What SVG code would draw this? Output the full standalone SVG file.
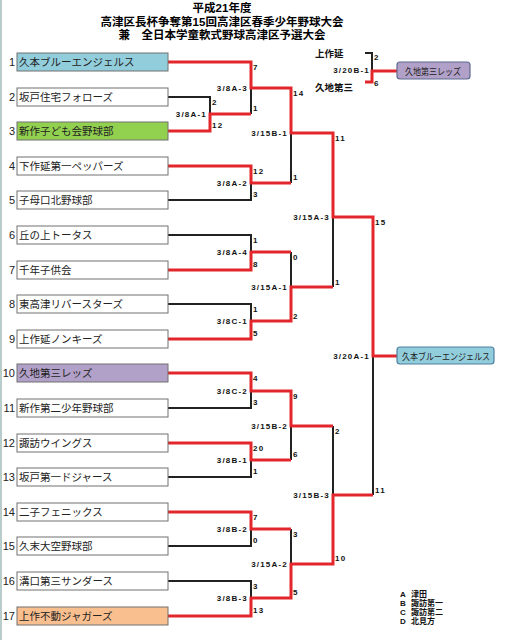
<svg xmlns="http://www.w3.org/2000/svg" width="506" height="640" viewBox="0 0 506 640">
<style>
.bg{fill:#ffffff}
.title{font-family:"Liberation Sans","Noto Sans CJK JP",sans-serif;font-size:11.5px;font-weight:bold;fill:#000;text-anchor:middle}
.box{stroke:#707070;stroke-width:1;fill:#ffffff}
.tn{font-family:"Liberation Sans","Noto Sans CJK JP",sans-serif;font-size:10.5px;fill:#222}
.num{font-family:"Liberation Sans","Noto Sans CJK JP",sans-serif;font-size:11px;fill:#222;text-anchor:end}
.lbl{font-family:"Liberation Sans",sans-serif;font-size:8px;font-weight:bold;fill:#111;letter-spacing:1.2px;text-anchor:end}
.sc{font-family:"Liberation Sans",sans-serif;font-size:8px;font-weight:bold;fill:#111;letter-spacing:1.2px}
.small{font-family:"Liberation Sans","Noto Sans CJK JP",sans-serif;font-size:9.5px;font-weight:bold;fill:#111}
.leg{font-family:"Liberation Sans","Noto Sans CJK JP",sans-serif;font-size:8px;font-weight:bold;fill:#111}
.win{font-family:"Liberation Sans","Noto Sans CJK JP",sans-serif;font-size:9.5px;fill:#222}
.blk{fill:none;stroke:#222;stroke-width:2}
.red{fill:none;stroke:#e3262b;stroke-width:3}
</style>
<rect class="bg" x="0" y="0" width="506" height="640"/>
<line x1="1" y1="0" x2="1" y2="640" stroke="#b8cccc" stroke-width="2"/>
<g id="title">
<text class="title" x="222" y="12">平成21年度</text>
<text class="title" x="222" y="26">高津区長杯争奪第15回高津区春季少年野球大会</text>
<text class="title" x="222" y="39">兼　全日本学童軟式野球高津区予選大会</text>
</g>
<g id="connectors">
<path class="blk" d="M168,97 H210 V114"/>
<path class="blk" d="M251,88 V114"/>
<path class="blk" d="M168,200 H251 V183"/>
<path class="blk" d="M291,133 V183"/>
<path class="blk" d="M168,235 H251 V252"/>
<path class="blk" d="M168,304 H251 V321"/>
<path class="blk" d="M291,252 V287"/>
<path class="blk" d="M333,217 V287"/>
<path class="blk" d="M168,408 H251 V391"/>
<path class="blk" d="M168,477 H251 V460"/>
<path class="blk" d="M291,426 V460"/>
<path class="blk" d="M168,546 H251 V529"/>
<path class="blk" d="M168,581 H251 V598"/>
<path class="blk" d="M291,529 V564"/>
<path class="blk" d="M333,426 V495"/>
<path class="blk" d="M373,356 V495"/>
<path class="blk" d="M365,53 H372 V71"/>
<path class="red" d="M168,62 H251 V88 H291 V133 H333 V217 H373 V356 H397"/>
<path class="red" d="M168,131 H210 V114 H251"/>
<path class="red" d="M168,166 H251 V183 H291"/>
<path class="red" d="M168,270 H251 V252 H291"/>
<path class="red" d="M168,339 H251 V321 H291 V287 H333"/>
<path class="red" d="M168,373 H251 V391 H291 V426 H333"/>
<path class="red" d="M168,443 H251 V460 H291"/>
<path class="red" d="M168,512 H251 V529 H291"/>
<path class="red" d="M168,616 H251 V598 H291 V564 H333 V495 H373"/>
<path class="red" d="M365,82 H372 V71 H397"/>
</g>
<g id="match-labels">
<text class="lbl" x="207" y="117">3/8A-1</text>
<text class="lbl" x="248" y="91">3/8A-3</text>
<text class="lbl" x="248" y="186">3/8A-2</text>
<text class="lbl" x="248" y="255">3/8A-4</text>
<text class="lbl" x="248" y="324">3/8C-1</text>
<text class="lbl" x="248" y="394">3/8C-2</text>
<text class="lbl" x="248" y="463">3/8B-1</text>
<text class="lbl" x="248" y="532">3/8B-2</text>
<text class="lbl" x="248" y="601">3/8B-3</text>
<text class="lbl" x="288" y="136">3/15B-1</text>
<text class="lbl" x="288" y="290">3/15A-1</text>
<text class="lbl" x="288" y="429">3/15B-2</text>
<text class="lbl" x="288" y="567">3/15A-2</text>
<text class="lbl" x="330" y="220">3/15A-3</text>
<text class="lbl" x="330" y="498">3/15B-3</text>
<text class="lbl" x="370" y="359">3/20A-1</text>
<text class="lbl" x="370" y="73">3/20B-1</text>
</g>
<g id="scores">
<text class="sc" x="212" y="105">2</text><text class="sc" x="212" y="128">12</text>
<text class="sc" x="253" y="70">7</text><text class="sc" x="253" y="111">1</text>
<text class="sc" x="253" y="174">12</text><text class="sc" x="253" y="197">3</text>
<text class="sc" x="253" y="243">1</text><text class="sc" x="253" y="267">8</text>
<text class="sc" x="253" y="312">1</text><text class="sc" x="253" y="336">5</text>
<text class="sc" x="253" y="381">4</text><text class="sc" x="253" y="405">3</text>
<text class="sc" x="253" y="451">20</text><text class="sc" x="253" y="474">1</text>
<text class="sc" x="253" y="520">7</text><text class="sc" x="253" y="543">0</text>
<text class="sc" x="253" y="589">3</text><text class="sc" x="253" y="613">13</text>
<text class="sc" x="293" y="96">14</text><text class="sc" x="293" y="180">1</text>
<text class="sc" x="293" y="260">0</text><text class="sc" x="293" y="319">2</text>
<text class="sc" x="293" y="399">9</text><text class="sc" x="293" y="457">6</text>
<text class="sc" x="293" y="537">3</text><text class="sc" x="293" y="595">5</text>
<text class="sc" x="335" y="141">11</text><text class="sc" x="335" y="285">1</text>
<text class="sc" x="335" y="434">2</text><text class="sc" x="335" y="561">10</text>
<text class="sc" x="375" y="225">15</text><text class="sc" x="375" y="493">11</text>
<text class="sc" x="374" y="60">2</text><text class="sc" x="374" y="86">6</text>
</g>
<g id="team1"><text class="num" x="15" y="66">1</text><rect class="box" x="17" y="53" width="151" height="18" style="fill:#92cddc"/><text class="tn" x="19" y="66">久本ブルーエンジェルス</text></g>
<g id="team2"><text class="num" x="15" y="101">2</text><rect class="box" x="17" y="88" width="151" height="18"/><text class="tn" x="19" y="101">坂戸住宅フォローズ</text></g>
<g id="team3"><text class="num" x="15" y="135">3</text><rect class="box" x="17" y="122" width="151" height="18" style="fill:#92d050"/><text class="tn" x="19" y="135">新作子ども会野球部</text></g>
<g id="team4"><text class="num" x="15" y="170">4</text><rect class="box" x="17" y="157" width="151" height="18"/><text class="tn" x="19" y="170">下作延第一ペッパーズ</text></g>
<g id="team5"><text class="num" x="15" y="204">5</text><rect class="box" x="17" y="191" width="151" height="18"/><text class="tn" x="19" y="204">子母口北野球部</text></g>
<g id="team6"><text class="num" x="15" y="239">6</text><rect class="box" x="17" y="226" width="151" height="18"/><text class="tn" x="19" y="239">丘の上トータス</text></g>
<g id="team7"><text class="num" x="15" y="274">7</text><rect class="box" x="17" y="261" width="151" height="18"/><text class="tn" x="19" y="274">千年子供会</text></g>
<g id="team8"><text class="num" x="15" y="308">8</text><rect class="box" x="17" y="295" width="151" height="18"/><text class="tn" x="19" y="308">東高津リバースターズ</text></g>
<g id="team9"><text class="num" x="15" y="343">9</text><rect class="box" x="17" y="330" width="151" height="18"/><text class="tn" x="19" y="343">上作延ノンキーズ</text></g>
<g id="team10"><text class="num" x="15" y="377">10</text><rect class="box" x="17" y="364" width="151" height="18" style="fill:#b1a0c7"/><text class="tn" x="19" y="377">久地第三レッズ</text></g>
<g id="team11"><text class="num" x="15" y="412">11</text><rect class="box" x="17" y="399" width="151" height="18"/><text class="tn" x="19" y="412">新作第二少年野球部</text></g>
<g id="team12"><text class="num" x="15" y="447">12</text><rect class="box" x="17" y="434" width="151" height="18"/><text class="tn" x="19" y="447">諏訪ウイングス</text></g>
<g id="team13"><text class="num" x="15" y="481">13</text><rect class="box" x="17" y="468" width="151" height="18"/><text class="tn" x="19" y="481">坂戸第一ドジャース</text></g>
<g id="team14"><text class="num" x="15" y="516">14</text><rect class="box" x="17" y="503" width="151" height="18"/><text class="tn" x="19" y="516">二子フェニックス</text></g>
<g id="team15"><text class="num" x="15" y="550">15</text><rect class="box" x="17" y="537" width="151" height="18"/><text class="tn" x="19" y="550">久末大空野球部</text></g>
<g id="team16"><text class="num" x="15" y="585">16</text><rect class="box" x="17" y="572" width="151" height="18"/><text class="tn" x="19" y="585">溝口第三サンダース</text></g>
<g id="team17"><text class="num" x="15" y="620">17</text><rect class="box" x="17" y="607" width="151" height="18" style="fill:#fabf8f"/><text class="tn" x="19" y="620">上作不動ジャガーズ</text></g>
<g id="b-team-top"><text class="small" x="315" y="57">上作延</text></g>
<g id="b-team-bottom"><text class="small" x="315" y="91">久地第三</text></g>
<g id="winner-b"><rect x="397" y="62" width="73" height="17" rx="3" fill="#b1a0c7" stroke="#5f6a8f" stroke-width="1.2"/><text class="win" x="405" y="74.5" textLength="56" lengthAdjust="spacingAndGlyphs">久地第三レッズ</text></g>
<g id="winner-a"><rect x="397" y="347" width="97" height="17" rx="3" fill="#92cddc" stroke="#4f7fa0" stroke-width="1.2"/><text class="win" x="402" y="359.5" textLength="88" lengthAdjust="spacingAndGlyphs">久本ブルーエンジェルス</text></g>
<g id="legend">
<text class="leg" x="400" y="597">A</text><text class="leg" x="411" y="597">津田</text>
<text class="leg" x="400" y="606">B</text><text class="leg" x="411" y="606">諏訪第一</text>
<text class="leg" x="400" y="615">C</text><text class="leg" x="411" y="615">諏訪第二</text>
<text class="leg" x="400" y="624">D</text><text class="leg" x="411" y="624">北見方</text>
</g>
</svg>
